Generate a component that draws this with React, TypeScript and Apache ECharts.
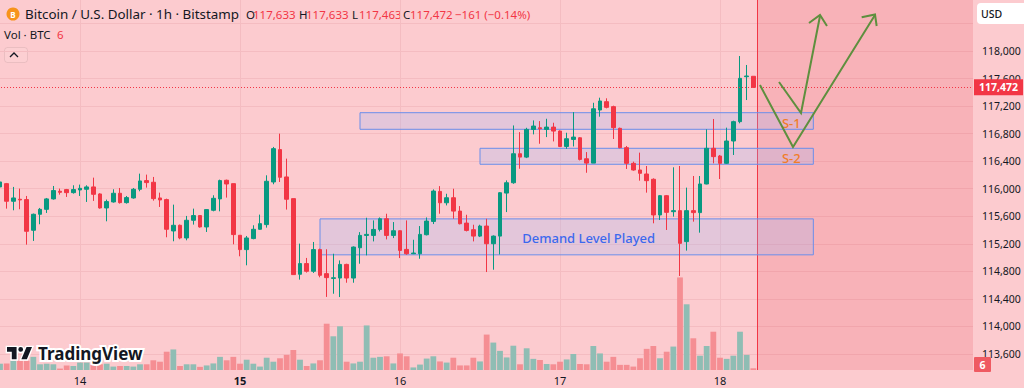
import React, { useEffect, useRef } from 'react';
import * as echarts from 'echarts';

// Hourly bars, x = hours relative to the 14th 00:00 (first bar: 13th 12:00)
const firstHour = -12;
const opens = [
  116026, 116074, 115818, 115847, 115842, 115397, 115629, 115701, 115852, 115963,
  115987, 115943, 115982, 115992, 116026, 115924, 115721, 115808, 115934, 115798,
  115866, 115992, 116118, 116094, 115866, 115842, 115387, 115469, 115285, 115542,
  115610, 115445, 115687, 115852, 116123, 116074, 115324, 115116, 115276, 115411,
  115479, 116098, 116568, 116171, 115856, 114758, 114913, 114801, 115116, 114767,
  114698, 114703, 114901, 114703, 115143, 115322, 115322, 115409, 115564, 115322,
  115390, 115119, 115056, 115056, 115332, 115525, 115961, 115796, 115869, 115675,
  115501, 115405, 115312, 115458, 115201, 115312, 115937, 116087, 116508, 116459,
  116861, 116885, 116861, 116895, 116837, 116614, 116716, 116740, 116435, 116372,
  117143, 117264, 117192, 116877, 116596, 116369, 116272, 116214, 116137, 115619,
  115899, 115667, 115682, 115232, 115682, 115653, 116069, 116587, 116475, 116369,
  116693, 116974, 117627, 117633,
];
const closes = [
  116098, 115818, 115866, 115837, 115382, 115629, 115701, 115852, 115973, 115948,
  115943, 115987, 116006, 116026, 115919, 115721, 115813, 115934, 115798, 115871,
  115992, 116113, 116089, 115856, 115837, 115411, 115469, 115285, 115542, 115610,
  115445, 115697, 115861, 116118, 116069, 115334, 115116, 115285, 115411, 115493,
  116108, 116582, 116166, 115847, 114753, 114913, 114801, 115116, 114743, 114709,
  114707, 114901, 114703, 115153, 115322, 115337, 115409, 115564, 115322, 115390,
  115104, 115056, 115066, 115337, 115530, 115966, 115796, 115869, 115675, 115492,
  115395, 115312, 115458, 115201, 115312, 115942, 116087, 116508, 116459, 116861,
  116910, 116871, 116895, 116837, 116614, 116726, 116750, 116426, 116372, 117161,
  117274, 117182, 116887, 116596, 116369, 116272, 116224, 116117, 115619, 115899,
  115657, 115682, 115207, 115682, 115653, 116069, 116587, 116466, 116369, 116693,
  116974, 117603, 117637, 117472,
];
const lows = [
  115944, 115711, 115687, 115702, 115188, 115242, 115484, 115648, 115842, 115914,
  115881, 115929, 115895, 115808, 115823, 115711, 115527, 115798, 115784, 115784,
  115856, 115963, 116016, 115827, 115735, 115295, 115237, 115266, 115251, 115479,
  115435, 115372, 115672, 115672, 115871, 115193, 115019, 114888, 115266, 115406,
  115435, 116065, 116098, 115697, 114753, 114680, 114782, 114777, 114714, 114429,
  114475, 114427, 114635, 114635, 114911, 115032, 115235, 115380, 115264, 115283,
  114993, 115041, 115051, 114983, 115322, 115487, 115637, 115758, 115564, 115482,
  115380, 115235, 115298, 114790, 114824, 115046, 115661, 116072, 116290, 116445,
  116789, 116653, 116750, 116687, 116605, 116580, 116614, 116411, 116232, 116372,
  117046, 117167, 116722, 116587, 116287, 116262, 116117, 115943, 115498, 115546,
  115401, 115595, 114733, 115101, 115522, 115362, 116064, 116369, 116141, 116359,
  116490, 116950, 117288, 117463,
];
const highs = [
  116123, 116084, 116026, 116002, 115895, 115639, 115721, 115866, 116040, 116002,
  115997, 116050, 116060, 116050, 116161, 115934, 115842, 115992, 116011, 115895,
  116011, 116219, 116205, 116171, 115943, 115856, 115769, 115479, 115605, 115711,
  115614, 115701, 115905, 116132, 116132, 116074, 115324, 115314, 115469, 115624,
  116195, 116607, 116800, 116437, 115856, 115203, 114995, 115227, 115130, 115121,
  115056, 114959, 114911, 115162, 115370, 115579, 115540, 115583, 115637, 115516,
  115395, 115540, 115259, 115458, 115583, 115990, 116038, 115927, 116000, 115748,
  115622, 115477, 115477, 115564, 115322, 115951, 116121, 116919, 116822, 116885,
  116992, 116982, 117016, 116958, 116847, 116813, 117113, 116750, 116532, 117248,
  117322, 117313, 117206, 116887, 116621, 116393, 116524, 116330, 116151, 115909,
  115909, 116311, 116330, 116016, 116185, 116185, 116863, 117013, 116490, 116887,
  116988, 117927, 117797, 117633,
];
const volumes = [
  22, 23, 32, 32, 32, 46, 20, 22, 20, 5,
  16, 14, 26, 26, 20, 20, 22, 12, 14, 14,
  12, 20, 20, 34, 29, 64, 72, 14, 20, 20,
  11, 16, 23, 46, 34, 46, 22, 36, 22, 12,
  43, 29, 41, 53, 70, 36, 14, 23, 34, 162,
  118, 153, 29, 23, 29, 156, 43, 46, 48, 23,
  58, 48, 9, 19, 40, 48, 30, 26, 43, 16,
  16, 43, 30, 124, 96, 67, 44, 85, 20, 76,
  39, 35, 21, 20, 29, 37, 56, 21, 20, 84,
  58, 29, 46, 18, 18, 12, 41, 74, 84, 41,
  64, 82, 324, 230, 111, 50, 84, 134, 43, 39,
  50, 134, 53, 6,
];

const dayTicks = [0, 24, 48, 72, 96];
const dayLabels = ['14', '15', '16', '17', '18'];
const boldDay = '15';
const lastPrice = 117472;
const lastVolume = 6;
const futureStart = 101.65;

const zones = [
  { from: 36, to: 110, low: 115040, high: 115562 },
  { from: 42, to: 110, low: 116863, high: 117104 },
  { from: 60, to: 110, low: 116355, high: 116587 },
];
const zoneLabels = [
  { text: 'Demand Level Played', x: 76.3, price: 115280, color: '#3B69EE' },
  { text: 'S-1', x: 106.7, price: 116959, color: '#F07D28' },
  { text: 'S-2', x: 106.7, price: 116442, color: '#F07D28' },
];
const projectionPaths = [
  [[102.0, 117506], [106.95, 116606], [119.25, 118523]],
  [[117.25, 118489], [119.25, 118530], [119.5, 118363]],
  [[104.85, 117550], [108.15, 117100], [111.0, 118508]],
  [[109.35, 118407], [111.0, 118523], [112.05, 118363]],
];

const headerTitle = 'Bitcoin / U.S. Dollar · 1h · Bitstamp';
const ohlcKeys = ['O', 'H', 'L', 'C'];
const ohlcValues = ['117,633', '117,633', '117,463', '117,472'];
const changeText = '−161 (−0.14%)';

const UP = '#089981';
const DOWN = '#F23645';
const FONT = '"Noto Sans", "DejaVu Sans", sans-serif';
const TEXT = '#131722';
const GRID_LINE = '#F4BCC1';

const TV_LOGO = 'M0 4H14V22H7V11H0Z M16.5 7.5A3.5 3.5 0 1 0 23.5 7.5A3.5 3.5 0 1 0 16.5 7.5Z M21 22H29L36.5 4H28.5Z';
let logoRegistered = false;

function fmt(n: number) {
  return n.toLocaleString('en-US');
}

export default function App() {
  const ref = useRef<HTMLDivElement>(null);
  useEffect(() => {
    if (!ref.current) return;
    if (!logoRegistered) {
      echarts.graphic.registerShape('tvlogo', echarts.graphic.extendPath(TV_LOGO, {}) as any);
      logoRegistered = true;
    }
    const chart = echarts.init(ref.current, null, { renderer: 'svg' });
    const xMin = -24;
    const xMax = 133.95;
    const candleData = opens.map((o, i) => [firstHour + i, o, closes[i], lows[i], highs[i]]);
    const volData = volumes.map((v, i) => ({
      value: [firstHour + i, v],
      itemStyle: { color: closes[i] >= opens[i] ? '#8FBDB4' : '#F58E93' },
    }));

    const mid = { verticalAlign: 'middle', textVerticalAlign: 'middle' };
    const ohlcX = [246, 299, 352, 403];
    const header: any[] = [
      { type: 'circle', shape: { cx: 13, cy: 14, r: 6.5 }, style: { fill: '#F7931A' } },
      { type: 'text', x: 13, y: 14.5, style: { text: 'B', fill: '#fff', font: `bold 8px ${FONT}`, align: 'center', textAlign: 'center', ...mid } },
      { type: 'text', x: 25, y: 14, style: { text: headerTitle, fill: TEXT, font: `13.4px ${FONT}`, ...mid } },
    ];
    ohlcKeys.forEach((k, i) => {
      header.push({ type: 'text', x: ohlcX[i], y: 14, style: { text: k, fill: TEXT, font: `11.5px ${FONT}`, ...mid } });
      header.push({ type: 'text', x: ohlcX[i] + 7, y: 14, style: { text: ohlcValues[i], fill: DOWN, font: `11.5px ${FONT}`, ...mid } });
    });
    header.push({ type: 'text', x: 455, y: 14, style: { text: changeText, fill: DOWN, font: `11.5px ${FONT}`, ...mid } });
    header.push({ type: 'text', x: 4, y: 34, style: { text: 'Vol · BTC', fill: TEXT, font: `11.5px ${FONT}`, ...mid } });
    header.push({ type: 'text', x: 57, y: 34, style: { text: String(lastVolume), fill: DOWN, font: `11.5px ${FONT}`, ...mid } });
    header.push({ type: 'rect', shape: { x: 4.5, y: 47.5, width: 23, height: 15, r: 3 }, style: { fill: 'rgba(255,255,255,0.08)', stroke: 'rgba(0,0,0,0.07)', lineWidth: 1 } });
    header.push({ type: 'polyline', shape: { points: [[10, 57], [14, 53], [18, 57]] }, style: { stroke: TEXT, lineWidth: 1.3, fill: 'none' } });

    // price-scale widgets
    header.push({ type: 'rect', z: 50, shape: { x: 977, y: 3, width: 52, height: 21, r: 4 }, style: { fill: '#ffffff' } });
    header.push({ type: 'text', z: 51, x: 981, y: 13.5, style: { text: 'USD', fill: TEXT, font: `500 10.5px ${FONT}`, ...mid } });
    header.push({ type: 'rect', z: 50, shape: { x: 974, y: 357, width: 17, height: 15, r: 1 }, style: { fill: '#EF5A62' } });
    header.push({ type: 'text', z: 51, x: 982.5, y: 364.5, style: { text: String(lastVolume), fill: '#fff', font: `bold 10.5px ${FONT}`, align: 'center', textAlign: 'center', ...mid } });

    // TradingView watermark
    header.push({
      type: 'tvlogo', z: 40, x: 7, y: 344.3, scaleX: 0.685, scaleY: 0.685,
      style: { fill: TEXT, stroke: '#ffffff', lineWidth: 4, strokeFirst: true },
    });
    header.push({ type: 'text', z: 40, x: 38, y: 353, style: { text: 'TradingView', fill: '#ffffff', stroke: '#ffffff', lineWidth: 4, font: `bold 17px ${FONT}`, ...mid } });
    header.push({ type: 'text', z: 41, x: 38, y: 353, style: { text: 'TradingView', fill: TEXT, font: `bold 17px ${FONT}`, ...mid } });

    chart.setOption({
      animation: false,
      backgroundColor: '#FCCBCF',
      textStyle: { fontFamily: FONT },
      grid: [
        { left: -80, right: 51, top: -4.09, bottom: 34, containLabel: false, outerBoundsMode: 'none' },
        { left: -80, right: 51, top: 0, bottom: 18, containLabel: false, outerBoundsMode: 'none' },
      ],
      xAxis: [
        { type: 'value', gridIndex: 0, min: xMin, max: xMax, show: false },
        {
          type: 'value', gridIndex: 1, min: xMin, max: xMax, interval: 24,
          axisLine: { show: false }, axisTick: { show: false }, splitLine: { show: false },
          axisLabel: {
            margin: 5, color: TEXT, fontSize: 11, lineHeight: 11, fontFamily: FONT,
            showMinLabel: true, showMaxLabel: true,
            formatter: (v: number) => {
              const i = dayTicks.indexOf(v);
              if (i < 0) return '';
              return dayLabels[i] === boldDay ? `{b|${dayLabels[i]}}` : dayLabels[i];
            },
            rich: { b: { fontWeight: 'bold', fontSize: 11, lineHeight: 11, color: TEXT, fontFamily: FONT } },
          },
        },
      ],
      yAxis: [
        {
          type: 'value', gridIndex: 0, position: 'right', min: 113600, max: 118800, interval: 400,
          axisLine: { show: false }, axisTick: { show: false },
          splitLine: { show: true, lineStyle: { color: GRID_LINE, width: 1 } },
          axisLabel: {
            margin: 9, color: TEXT, fontSize: 10.5, fontFamily: FONT,
            formatter: (v: number) => (v > 118000 ? '' : fmt(v)),
          },
        },
        { type: 'value', gridIndex: 1, min: 0, max: 1295, show: false },
      ],
      series: [
        {
          type: 'bar', name: 'Volume', xAxisIndex: 1, yAxisIndex: 1, data: volData, barWidth: 5.8, z: 2,
          markArea: {
            silent: true, z: 1,
            itemStyle: { color: 'rgba(230,30,50,0.14)' },
            label: { show: false },
            data: [[{ xAxis: futureStart }, { xAxis: xMax }]],
          },
          markLine: {
            silent: true, z: 1, symbol: 'none', label: { show: false },
            lineStyle: { color: GRID_LINE, type: 'solid', width: 1 },
            data: [
              ...dayTicks.map((d) => ({ xAxis: d })),
              { xAxis: futureStart, lineStyle: { color: DOWN, type: 'solid', width: 1 } },
            ],
          },
        },
        {
          type: 'candlestick', name: 'BTCUSD', xAxisIndex: 0, yAxisIndex: 0, data: candleData,
          encode: { x: 0, y: [1, 2, 3, 4] },
          barWidth: 4, z: 3,
          itemStyle: { color: UP, color0: DOWN, borderColor: UP, borderColor0: DOWN, borderWidth: 1 },
          markArea: {
            silent: true, z: 2,
            itemStyle: { color: 'rgba(150,185,255,0.24)', borderColor: '#6A8EEA', borderWidth: 1 },
            label: { show: false },
            data: zones.map((z) => [{ xAxis: z.from, yAxis: z.high }, { xAxis: z.to, yAxis: z.low }]),
          },
          markLine: {
            silent: true, symbol: 'none', z: 5,
            lineStyle: { color: DOWN, type: [1, 2], width: 1 },
            label: {
              show: true, position: 'end', distance: 1, formatter: fmt(lastPrice),
              backgroundColor: DOWN, color: '#fff', fontWeight: 'bold', fontSize: 10.5,
              fontFamily: FONT, padding: [3, 5, 2, 5],
            },
            data: [{ yAxis: lastPrice }],
          },
          markPoint: {
            silent: true, symbol: 'rect', symbolSize: 1, itemStyle: { color: 'rgba(0,0,0,0)' },
            data: zoneLabels.map((l) => ({
              coord: [l.x, l.price],
              label: { show: true, position: 'inside', formatter: l.text, color: l.color, fontSize: 13, fontWeight: 500, fontFamily: FONT },
            })),
          },
        },
        {
          type: 'lines', coordinateSystem: 'cartesian2d', xAxisIndex: 0, yAxisIndex: 0, polyline: true, z: 6,
          silent: true,
          lineStyle: { color: '#5E8F3E', width: 2, opacity: 1 },
          data: projectionPaths.map((c) => ({ coords: c })),
        },
      ],
      graphic: header,
    });
    return () => chart.dispose();
  }, []);
  return (
    <div style={{ position: 'fixed', left: 0, top: 0, width: 1024, height: 388 }}>
      <div ref={ref} style={{ width: 1024, height: 388 }} />
    </div>
  );
}
